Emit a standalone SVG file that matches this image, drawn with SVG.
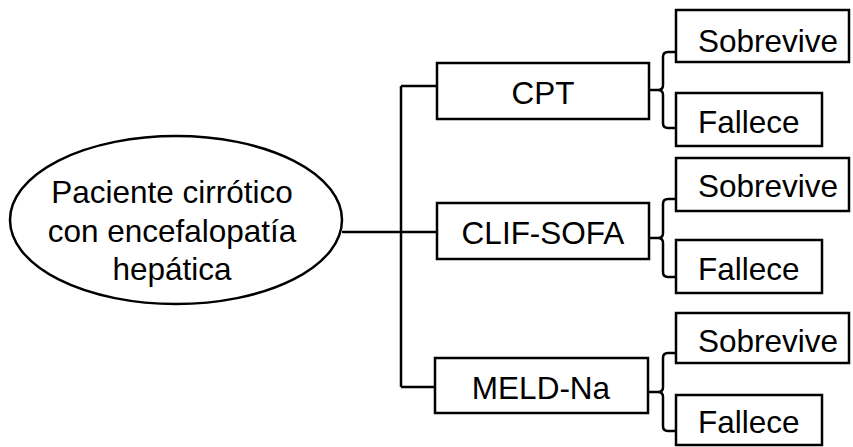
<svg xmlns="http://www.w3.org/2000/svg" width="853" height="447" viewBox="0 0 853 447">
<style>
.s{fill:#fff;stroke:#000;stroke-width:2.5}
.c{fill:none;stroke:#000;stroke-width:2.5;stroke-linejoin:round}
text{font-family:"Liberation Sans",Arial,sans-serif;font-size:31.5px;fill:#000}
.m{text-anchor:middle}
</style>
<rect width="853" height="447" fill="#fff"/>
<g id="connectors">
<path class="c" d="M342,232 H437 M401,86 V387 M401,86 H437 M401,387 H435"/>
<path class="c" d="M676,52 H668 Q663,52 663,57 V85 Q663,90 658,90 H649 M658,90 Q663,90 663,95 V123 Q663,128 668,128 H676"/>
<path class="c" d="M676,199 H668 Q663,199 663,204 V233 Q663,238 658,238 H649 M658,238 Q663,238 663,243 V272 Q663,277 668,277 H676"/>
<path class="c" d="M676,353 H668 Q663,353 663,358 V387 Q663,392 658,392 H648 M658,392 Q663,392 663,397 V426 Q663,431 668,431 H676"/>
</g>
<g id="patient">
<ellipse class="s" cx="176" cy="220" rx="166" ry="84"/>
<text class="m" x="172" y="203">Paciente cirrótico</text>
<text class="m" x="172" y="242">con encefalopatía</text>
<text class="m" x="172" y="280">hepática</text>
</g>
<g id="cpt">
<rect class="s" x="437" y="63" width="212" height="56"/>
<text class="m" x="543" y="104">CPT</text>
</g>
<g id="clif">
<rect class="s" x="437" y="203" width="212" height="56"/>
<text class="m" x="543" y="244">CLIF-SOFA</text>
</g>
<g id="meld">
<rect class="s" x="435" y="358" width="213" height="55"/>
<text class="m" x="541" y="399">MELD-Na</text>
</g>
<g id="sob1">
<rect class="s" x="676" y="10" width="173" height="52"/>
<text x="698" y="52">Sobrevive</text>
</g>
<g id="fal1">
<rect class="s" x="676" y="93" width="146" height="53"/>
<text x="698" y="133">Fallece</text>
</g>
<g id="sob2">
<rect class="s" x="676" y="158" width="173" height="53"/>
<text x="698" y="197">Sobrevive</text>
</g>
<g id="fal2">
<rect class="s" x="676" y="240" width="146" height="53"/>
<text x="698" y="280">Fallece</text>
</g>
<g id="sob3">
<rect class="s" x="676" y="313" width="173" height="50"/>
<text x="698" y="352">Sobrevive</text>
</g>
<g id="fal3">
<rect class="s" x="676" y="395" width="146" height="50"/>
<text x="698" y="433">Fallece</text>
</g>
</svg>
